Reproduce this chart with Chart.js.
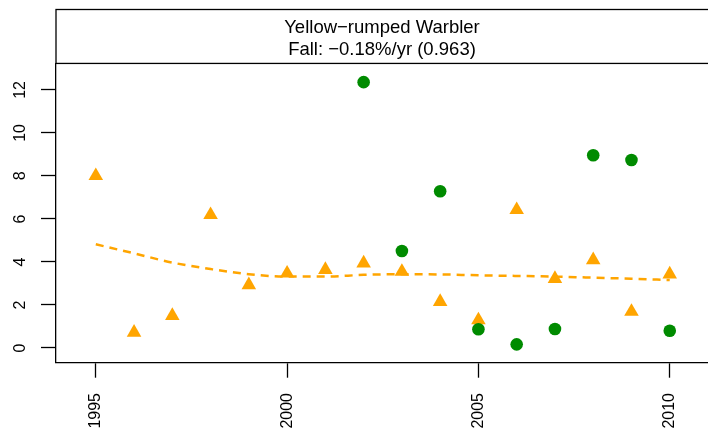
<!doctype html>
<html>
  <head>
    <script src="https://cdn.jsdelivr.net/npm/chart.js@4.4.0/dist/chart.umd.min.js"></script>
    <style>
      body { margin: 0; background: #fff; overflow: hidden; }
      canvas { display: block; }
    </style>
  </head>
  <body>
    <canvas id="c1" width="708" height="442"></canvas>
    <script>
      // values
      let years = [1995, 1996, 1997, 1998, 1999, 2000, 2001, 2002, 2003, 2004, 2005, 2006, 2007, 2008, 2009, 2010];
      let fallCounts = [8.0, 0.72, 1.5, 6.19, 2.93, 3.47, 3.64, 3.94, 3.55, 2.15, 1.3, 6.42, 3.22, 4.09, 1.69, 3.43];
      let trendValues = [4.82, 4.4, 3.97, 3.67, 3.43, 3.32, 3.32, 3.4, 3.43, 3.42, 3.38, 3.35, 3.32, 3.27, 3.22, 3.16];
      let greenYears = [2002, 2003, 2004, 2005, 2006, 2007, 2008, 2009, 2010];
      let greenCounts = [12.36, 4.51, 7.29, 0.87, 0.17, 0.88, 8.96, 8.74, 0.8];
      let xTicks = [1995, 2000, 2005, 2010];
      let yTicks = [0, 2, 4, 6, 8, 10, 12];
      let titleLines = ['Yellow\u2212rumped Warbler', 'Fall: \u22120.18%/yr (0.963)'];

      let fontFamily = '"Liberation Sans", Arial, Helvetica, sans-serif';

      function pts(xs, ys) {
        return xs.map((x, i) => ({ x: x, y: ys[i] }));
      }

      // box around the title strip
      const stripBox = {
        id: 'stripBox',
        afterDraw(chart) {
          const ctx = chart.ctx;
          const a = chart.chartArea;
          ctx.save();
          ctx.strokeStyle = '#000';
          ctx.lineWidth = 1.3;
          ctx.strokeRect(a.left, 9.5, a.right - a.left + 10, a.top - 9.5);
          ctx.restore();
        }
      };

      let chart1 = new Chart(document.getElementById('c1'), {
        type: 'scatter',
        data: {
          datasets: [
            {
              label: 'green',
              data: pts(greenYears, greenCounts),
              pointStyle: 'circle',
              pointRadius: 6.3,
              backgroundColor: '#008B00',
              borderWidth: 0,
              order: 0
            },
            {
              label: 'fall',
              data: pts(years, fallCounts),
              pointStyle: 'triangle',
              pointRadius: 8.4,
              backgroundColor: '#FFA500',
              borderWidth: 0,
              order: 1
            },
            {
              label: 'trend',
              type: 'line',
              data: pts(years, trendValues),
              showLine: true,
              borderColor: '#FFA500',
              borderWidth: 2.5,
              borderDash: [8, 6],
              pointRadius: 0,
              cubicInterpolationMode: 'monotone',
              fill: false,
              order: 2
            }
          ]
        },
        options: {
          responsive: false,
          animation: false,
          devicePixelRatio: 1,
          layout: { autoPadding: false, padding: { top: 0, left: 0, right: 0, bottom: 0 } },
          plugins: {
            legend: { display: false },
            tooltip: { enabled: false },
            title: {
              display: true,
              text: titleLines,
              fullSize: false,
              color: '#000',
              font: { family: fontFamily, size: 18.5, weight: 'normal', lineHeight: 1.19 },
              padding: { top: 16.5, bottom: 2.9 }
            }
          },
          scales: {
            x: {
              type: 'linear',
              min: 1993.96,
              max: 2011.0,
              afterBuildTicks: s => { s.ticks = xTicks.map(v => ({ value: v })); },
              afterFit: s => { s.height = 79.3; s.paddingLeft = 0; s.paddingRight = 0; },
              border: { display: true, color: '#000', width: 1.3 },
              grid: { display: true, drawOnChartArea: false, drawTicks: true, tickLength: 15, tickColor: '#000', tickWidth: 1.3 },
              ticks: {
                minRotation: 90,
                maxRotation: 90,
                padding: 15.3,
                color: '#000',
                font: { family: fontFamily, size: 16 },
                callback: v => String(v)
              }
            },
            y: {
              type: 'linear',
              min: -0.684,
              max: 13.23,
              afterBuildTicks: s => { s.ticks = yTicks.map(v => ({ value: v })); },
              afterFit: s => { s.width = 56; s.paddingTop = 0; s.paddingBottom = 0; },
              border: { display: true, color: '#000', width: 1.3 },
              grid: { display: true, drawOnChartArea: false, drawTicks: true, tickLength: 15, tickColor: '#000', tickWidth: 1.3 },
              ticks: {
                minRotation: 90,
                crossAlign: 'center',
                padding: 11.6,
                color: '#000',
                font: { family: fontFamily, size: 16 },
                callback: v => String(v)
              }
            }
          }
        },
        plugins: [stripBox]
      });
    </script>
  </body>
</html>
